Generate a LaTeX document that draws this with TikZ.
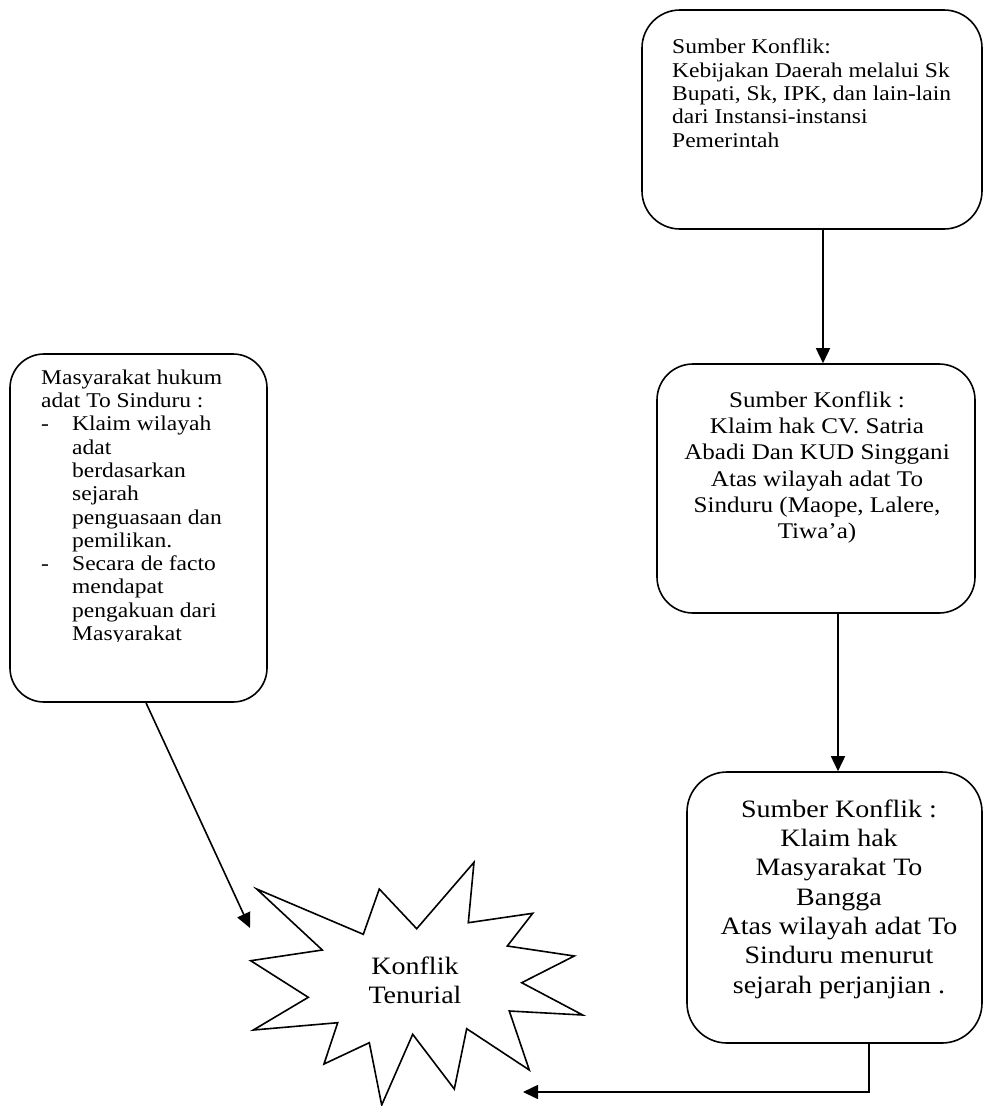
\documentclass[tikz,border=0pt]{standalone}
\usepackage{fontspec}
\setmainfont{Liberation Serif}[FakeStretch=1.12]
\usetikzlibrary{arrows.meta,calc}
\begin{document}
\begin{tikzpicture}[x=1pt,y=-1pt,
  box/.style={draw,line width=1.6pt,rounded corners=38pt,inner sep=0pt},
  arr/.style={line width=1.6pt,-{Triangle[length=15pt,width=14pt]}},
  txt/.style={inner sep=0pt},
  fA/.style={font=\fontsize{21}{23.3}\selectfont},
  fB/.style={font=\fontsize{22.4}{26.3}\selectfont},
  fC/.style={font=\fontsize{25}{29.3}\selectfont},
  fD/.style={font=\fontsize{25}{29}\selectfont}]
\useasboundingbox (0,0) rectangle (983,1106);

% boxes
\node[box,minimum width=340pt,minimum height=219pt] (b1) at (812,119.5) {};
\node[box,minimum width=318pt,minimum height=249pt,rounded corners=36pt] (b2) at (816,488.5) {};
\node[box,minimum width=295pt,minimum height=271pt,rounded corners=40pt] (b3) at (834.5,907.5) {};
\node[box,minimum width=257pt,minimum height=348pt,rounded corners=34pt] (bL) at (138.5,528) {};

% texts
\node[txt,fA,anchor=north west,align=left] (t1) at (672,39)
  {Sumber Konflik:\\Kebijakan Daerah melalui Sk\\Bupati, Sk, IPK, dan lain-lain\\dari Instansi-instansi\\Pemerintah};
\node[txt,fB,anchor=north,align=center] (t2) at (817,391.2)
  {Sumber Konflik :\\Klaim hak CV. Satria\\Abadi Dan KUD Singgani\\Atas wilayah adat To\\Sinduru (Maope, Lalere,\\Tiwa’a)};
\node[txt,fC,anchor=north,align=center] (t3) at (839,799.5)
  {Sumber Konflik :\\Klaim hak\\Masyarakat To\\Bangga\\Atas wilayah adat To\\Sinduru menurut\\sejarah perjanjian .};
\begin{scope}
  \clip (0,0) rectangle (983,641);
  \node[txt,fA,anchor=north west,align=left] (tL) at (41,369.5)
    {Masyarakat hukum\\adat To Sinduru :\\\makebox[31pt][l]{-}Klaim wilayah\\\hspace*{31pt}adat\\\hspace*{31pt}berdasarkan\\\hspace*{31pt}sejarah\\\hspace*{31pt}penguasaan dan\\\hspace*{31pt}pemilikan.\\\makebox[31pt][l]{-}Secara de facto\\\hspace*{31pt}mendapat\\\hspace*{31pt}pengakuan dari\\\hspace*{31pt}Masyarakat};
\end{scope}

% starburst
\draw[line width=1.6pt] (256.7,889) -- (322.3,950) -- (250.7,960.7) -- (308.3,997.3)
  -- (253.3,1030) -- (337.7,1022.7) -- (324,1064) -- (369.3,1042.7) -- (381.7,1105)
  -- (412.7,1034.3) -- (454.3,1089) -- (466.7,1028.7) -- (529.3,1070) -- (509.3,1011)
  -- (582.7,1015) -- (521.7,982.7) -- (574.3,956) -- (507.3,946) -- (532.7,913.3)
  -- (468.3,922.7) -- (474,862.3) -- (416.7,928.7) -- (379.3,889) -- (363.3,934.3) -- cycle;
\node[txt,fD,anchor=north,align=center] (kt) at (415,957) {Konflik\\Tenurial};

% connectors
\coordinate (kL) at (250,928);
\coordinate (kB) at (523,1092);
\draw[arr] ([xshift=11pt]b1.south) -- ([xshift=11pt]b1.south |- b2.north);
\draw[arr] ([xshift=22pt]b2.south) -- ([xshift=22pt]b2.south |- b3.north);
\draw[arr] ([xshift=7.5pt]bL.south) -- (kL);
\draw[arr] ([xshift=34.5pt]b3.south) |- (kB);
\end{tikzpicture}
\end{document}
